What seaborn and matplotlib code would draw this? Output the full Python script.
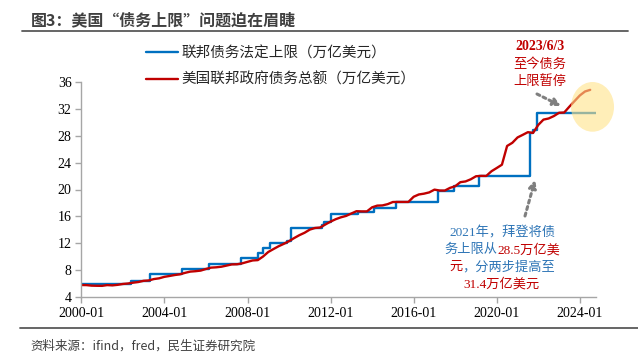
import matplotlib
matplotlib.use("Agg")
import matplotlib.pyplot as plt
import matplotlib.dates as mdates
from matplotlib.patches import Ellipse
from matplotlib.lines import Line2D
import numpy as np
import pandas as pd
import seaborn as sns

# ---------------- data ----------------
limit_dates = ['2000-01-01', '2002-06-01', '2003-05-01', '2004-11-01', '2006-03-01',
               '2007-09-01', '2008-07-01', '2008-10-01', '2009-02-01', '2009-12-01',
               '2010-02-01', '2011-08-01', '2011-09-01', '2012-01-01', '2013-05-01',
               '2014-02-01', '2015-03-01', '2017-03-01', '2017-12-01', '2019-03-01',
               '2019-08-01', '2021-08-01', '2021-10-01', '2021-12-01', '2024-10-10']
limit_values = [5.95, 6.40, 7.384, 8.184, 8.965,
                9.815, 10.615, 11.315, 12.104, 12.394,
                14.294, 14.694, 15.194, 16.394, 16.699,
                17.212, 18.113, 19.809, 20.456, 21.988,
                22.03, 28.401, 28.881, 31.381, 31.381]

debt_start_value = 5.78  # 2000-01
debt_values = [  # quarter ends, 2000Q1 .. 2024Q2
    5.77, 5.69, 5.67, 5.66,
    5.77, 5.73, 5.81, 5.94,
    6.01, 6.13, 6.23, 6.41,
    6.46, 6.67, 6.78, 7.00,
    7.13, 7.27, 7.38, 7.60,
    7.78, 7.84, 7.93, 8.17,
    8.37, 8.42, 8.51, 8.68,
    8.85, 8.87, 9.01, 9.23,
    9.44, 9.49, 10.02, 10.70,
    11.13, 11.55, 11.91, 12.31,
    12.77, 13.20, 13.56, 14.03,
    14.27, 14.34, 14.79, 15.22,
    15.58, 15.86, 16.07, 16.43,
    16.77, 16.74, 16.74, 17.35,
    17.60, 17.63, 17.82, 18.14,
    18.15, 18.15, 18.15, 18.92,
    19.26, 19.38, 19.57, 19.98,
    19.85, 19.84, 20.24, 20.49,
    21.09, 21.20, 21.52, 21.97,
    22.03, 22.02, 22.72, 23.20,
    23.69, 26.48, 26.95, 27.75,
    28.13, 28.53, 28.43, 29.62,
    30.40, 30.57, 30.93, 31.42,
    31.46, 32.33, 33.17, 34.00,
    34.59, 34.83,
]
debt_dates = [pd.Timestamp('2000-01-01')] + list(
    pd.date_range('2000-03-31', periods=len(debt_values), freq='QE'))

series_labels = ['联邦债务法定上限（万亿美元）', '美国联邦政府债务总额（万亿美元）']
y_ticks = [4, 8, 12, 16, 20, 24, 28, 32, 36]
x_tick_years = [2000, 2004, 2008, 2012, 2016, 2020, 2024]

df_limit = pd.DataFrame({'date': pd.to_datetime(limit_dates), 'value': limit_values})
df_debt = pd.DataFrame({'date': debt_dates, 'value': [debt_start_value] + debt_values})

# ---------------- style ----------------
sns.set_theme(style='white')
plt.rcParams['font.family'] = ['Noto Sans CJK SC', 'DejaVu Sans']
SERIF = ['Liberation Serif', 'Noto Sans CJK SC']

BLUE = '#0070C0'
RED = '#C00000'
GRAY = '#A6A6A6'
W, H = 638, 360

fig = plt.figure(figsize=(W / 100, H / 100), dpi=100)
ax = fig.add_axes([81.3 / W, 1 - 297 / H, (596 - 81.3) / W, (297 - 82) / H])


def fpx(x, y):
    return (x / W, 1 - y / H)


sns.lineplot(data=df_limit, x='date', y='value', ax=ax, color=BLUE, lw=1.7,
             drawstyle='steps-post', label=series_labels[0], legend=False)
sns.lineplot(data=df_debt, x='date', y='value', ax=ax, color=RED, lw=1.7,
             label=series_labels[1], legend=False)

ax.set_xlim(pd.Timestamp('2000-01-01'), pd.Timestamp('2024-10-10'))
ax.set_ylim(4, 36)
ax.set_yticks(y_ticks)
ax.set_xticks([pd.Timestamp(f'{y}-01-01') for y in x_tick_years])
ax.xaxis.set_major_formatter(mdates.DateFormatter('%Y-%m'))
ax.set_xlabel('')
ax.set_ylabel('')
for s in ['top', 'right']:
    ax.spines[s].set_visible(False)
for s in ['left', 'bottom']:
    ax.spines[s].set_color(GRAY)
    ax.spines[s].set_linewidth(1.0)
ax.tick_params(axis='both', direction='out', length=4, width=1.0, color=GRAY,
               labelsize=10, labelcolor='#000000', pad=3, left=True, bottom=True)
for lab in ax.get_xticklabels() + ax.get_yticklabels():
    lab.set_family(SERIF)

# highlight ellipse
cx = mdates.date2num(pd.Timestamp('2024-08-10'))
ell = Ellipse((cx, 32.3), width=756, height=7.4, facecolor='#FFE38A', alpha=0.6,
              edgecolor='none', zorder=5, clip_on=False)
ax.add_patch(ell)

# legend
handles = [Line2D([], [], color=BLUE, lw=1.7), Line2D([], [], color=RED, lw=1.7)]
fig.legend(handles, series_labels, loc='upper left', bbox_to_anchor=fpx(146, 46),
           frameon=False, fontsize=10.5, handlelength=2.2, handletextpad=0.2,
           labelspacing=0.85, borderpad=0, borderaxespad=0)

# title and frame lines
fig.text(*fpx(31, 20), '图3：美国“债务上限”问题迫在眉睫', fontsize=11.5, fontweight='bold',
         color='#404040', va='center', ha='left')
fig.add_artist(Line2D([22 / W, 628 / W], [1 - 31 / H] * 2, color='#595959', lw=1.3))
fig.add_artist(Line2D([20 / W, 638 / W], [1 - 328 / H] * 2, color='#595959', lw=1.3))
fig.text(*fpx(30, 346), '资料来源：ifind，fred，民生证券研究院', fontsize=9,
         color='#404040', va='center', ha='left')

# top annotation
fig.text(*fpx(540, 47), '2023/6/3', fontsize=10, fontweight='bold', color=RED,
         family=SERIF, ha='center', va='center')
fig.text(*fpx(540, 64), '至今债务', fontsize=9.5, color=RED, ha='center', va='center')
fig.text(*fpx(540, 81), '上限暂停', fontsize=9.5, color=RED, ha='center', va='center')
arrow_style = dict(arrowstyle='-|>', color='#7F7F7F', lw=2.2, linestyle=(0, (1, 1.2)),
                   mutation_scale=11, shrinkA=0, shrinkB=0)
ax.annotate('', xy=fpx(561, 106), xytext=fpx(537, 94), xycoords='figure fraction',
            textcoords='figure fraction', arrowprops=arrow_style, zorder=6)
ax.annotate('', xy=fpx(535, 180), xytext=fpx(525, 216), xycoords='figure fraction',
            textcoords='figure fraction', arrowprops=arrow_style, zorder=6)

# bottom multicolour annotation (each line centred at x=502 px)
TBLUE = '#2E75B6'
lines = [
    (233, [('2021年，拜登将债', TBLUE)]),
    (250, [('务上限从', TBLUE), ('28.5万亿美', RED)]),
    (267, [('元', RED), ('，分两步提高至', TBLUE)]),
    (284, [('31.4万亿美元', RED)]),
]
built = []
for y0, parts in lines:
    row = []
    for txt, col in parts:
        if not row:
            t = fig.text(*fpx(450, y0), txt, fontsize=9.5, color=col, family=SERIF,
                         ha='left', va='center')
        else:
            t = ax.annotate(txt, xy=(1, 0), xycoords=row[-1], fontsize=9.5, color=col,
                            family=SERIF, ha='left', va='bottom')
        row.append(t)
    built.append((y0, row))

fig.canvas.draw()
renderer = fig.canvas.get_renderer()
for y0, row in built:
    x_left = row[0].get_window_extent(renderer).x0
    x_right = row[-1].get_window_extent(renderer).x1
    width = x_right - x_left
    row[0].set_position(fpx(502 - width / 2, y0))

fig.savefig('out.png', dpi=100)
